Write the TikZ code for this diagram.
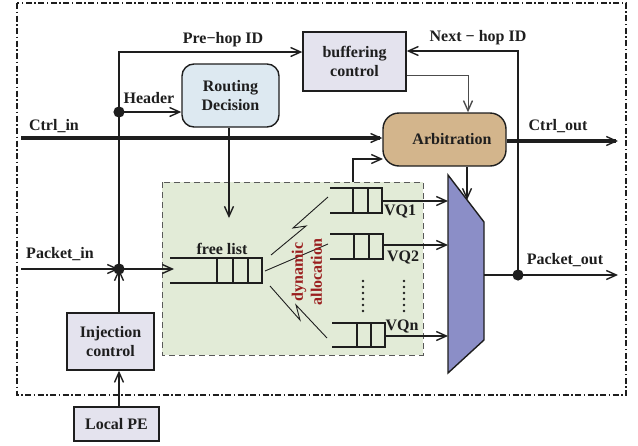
\documentclass[tikz,border=0pt]{standalone}
\usepackage{fontspec}
\setmainfont{Liberation Serif}
\usetikzlibrary{arrows.meta}
\definecolor{txt}{HTML}{1E1E1E}
\definecolor{bufc}{HTML}{E4E3EE}
\definecolor{routc}{HTML}{DDE9F1}
\definecolor{arbc}{HTML}{D3B58C}
\definecolor{muxc}{HTML}{8B8EC7}
\definecolor{greenc}{HTML}{E2EBD7}
\definecolor{redt}{HTML}{9A1E1E}
\tikzset{
  lbl/.style={font=\fontsize{16}{17}\selectfont\bfseries, text=txt, inner sep=0pt},
  boxstyle/.style={draw=txt, line width=1.4pt, inner sep=0pt, align=center, font=\fontsize{16}{19}\selectfont\bfseries, text=txt},
  arr/.style={-{Straight Barb[length=10pt,width=9pt,line width=1.4pt]}},
  wire/.style={line width=1.5pt, draw=txt},
  thickwire/.style={line width=3.4pt, draw=txt},
  qline/.style={line width=1.6pt, draw=txt},
}
\begin{document}
\begin{tikzpicture}[x=1pt,y=-1pt]
\useasboundingbox (0,0) rectangle (638,445);
% outer border
\draw[line width=1.5pt, txt, dash pattern=on 6pt off 2.5pt on 1.5pt off 2.5pt] (17,3) rectangle (626,395);
% green region
\draw[fill=greenc, draw=black!65, line width=1pt, dash pattern=on 6pt off 4pt] (162,182) rectangle (423,355);
\coordinate (gtop) at (353,182);

% boxes
\node[boxstyle, fill=bufc, minimum width=103pt, minimum height=59pt] (buf) at (354.5,61.5) {buffering\\control};
\node[boxstyle, fill=routc, rounded corners=12pt, minimum width=97pt, minimum height=63pt] (rout) at (230.5,95.5) {Routing\\Decision};
\node[boxstyle, fill=arbc, rounded corners=16pt, minimum width=123pt, minimum height=53pt] (arb) at (444.5,139.5) {\hspace*{15pt}Arbitration};
\node[boxstyle, fill=bufc, minimum width=87pt, minimum height=57pt] (inj) at (110.5,341.5) {Injection\\control};
\node[boxstyle, fill=bufc, minimum width=85pt, minimum height=34pt] (pe) at (116.5,424) {Local PE};

% mux
\coordinate (m1) at (448,175);
\coordinate (m2) at (484,222);
\coordinate (m3) at (484,340);
\coordinate (m4) at (448,373);
\draw[fill=muxc, draw=txt, line width=1.4pt] (m1) -- (m2) -- (m3) -- (m4) -- cycle;

% junction dots
\coordinate (hdot) at (119,112);
\coordinate (pdot) at (119,269);
\coordinate (odot) at (518,275);
\coordinate (ptop) at (119,52);
\coordinate (ntop) at (518,51);

% Pre-hop ID
\draw[wire, arr] (pdot) -- (ptop) -- (ptop -| buf.west);
\node[lbl] (prehop) at (223,40) {Pre−hop ID};
% Header
\draw[wire, arr] (hdot) -- (hdot -| rout.west);
\node[lbl] (header) at (149,98) {Header};
% Ctrl in / out
\coordinate (cin) at (21,138);
\coordinate (cout) at (618,141);
\draw[thickwire, arr] (cin) -- (cin -| arb.west);
\node[lbl] (ctrlin) at (54,126) {Ctrl\_in};
\draw[thickwire, arr] (arb.east |- cout) -- (cout);
\node[lbl] (ctrlout) at (558,126) {Ctrl\_out};
% Next-hop ID
\draw[wire, arr] (odot) -- (ntop) -- (ntop -| buf.east);
\node[lbl] (nexthop) at (478,38) {Next − hop ID};
% buffering -> arbitration
\coordinate (bc) at (468,75);
\draw[line width=1pt, draw=black!70, arr] (bc -| buf.east) -- (bc) -- (bc |- arb.north);
% arbitration -> mux
\coordinate (am) at (467,200);
\draw[wire, arr] (am |- arb.south) -- (am);
% green -> arbitration
\coordinate (ga) at (353,159);
\draw[wire, arr] (gtop) -- (ga) -- (383,159);
% routing -> free list
\coordinate (rl) at (229,218);
\draw[wire, arr] (rl |- rout.south) -- (rl);

% Packet in
\coordinate (pin) at (21,269);
\node[lbl] (packetin) at (60,254) {Packet\_in};
\draw[wire, arr] (pin) -- (pdot);
\coordinate (flin) at (174,269);
\draw[wire, arr] (pdot) -- (flin);
% injection
\draw[wire, arr] (pdot |- inj.north) -- (pdot);
\draw[wire, arr] (pdot |- pe.north) -- (pdot |- inj.south);

% Packet out
\coordinate (mout) at (484,275);
\coordinate (pout) at (618,275);
\draw[wire] (mout) -- (odot);
\draw[wire, arr] (odot) -- (pout);
\node[lbl] (packetout) at (565,260) {Packet\_out};

% dots
\fill[txt] (hdot) circle (5.6);
\fill[txt] (pdot) circle (5.6);
\fill[txt] (odot) circle (5.6);

% free list queue
\draw[qline] (170,258) -- (262,258) -- (262,283) -- (170,283);
\draw[qline] (217,258) -- (217,283) (233,258) -- (233,283) (248,258) -- (248,283);
\node[lbl] (freelist) at (222,249) {free list};

% VQ queues
\draw[qline] (330,188) -- (382,188) -- (382,213) -- (330,213);
\draw[qline] (353,188) -- (353,213) (368,188) -- (368,213);
\coordinate (vq1) at (382,201);
\draw[wire, arr] (vq1) -- (vq1 -| m1);
\node[lbl] (vq1l) at (400,211) {VQ1};

\draw[qline] (330,234) -- (383,234) -- (383,259) -- (330,259);
\draw[qline] (354,234) -- (354,259) (369,234) -- (369,259);
\coordinate (vq2) at (383,245);
\draw[wire, arr] (vq2) -- (vq2 -| m1);
\node[lbl] (vq2l) at (403,257) {VQ2};

\draw[qline] (332,323) -- (385,323) -- (385,347) -- (332,347);
\draw[qline] (357,323) -- (357,347) (371,323) -- (371,347);
\coordinate (vqn) at (385,336);
\draw[wire, arr] (vqn) -- (vqn -| m1);
\node[lbl] (vqnl) at (402,326) {VQn};

% vertical dots
\foreach \yy in {281,287,293,299,305,311} {
  \fill[txt] (363,\yy) circle (1.3);
  \fill[txt] (404,\yy) circle (1.3);
}

% lightning lines
\draw[line width=0.9pt, txt] (271,255) -- (306,226) -- (293,228) -- (328,197);
\draw[line width=0.9pt, txt] (265,271) -- (328,244);
\draw[line width=0.9pt, txt] (270,286) -- (300,320) -- (296,305) -- (327,338);

% dynamic allocation
\node[font=\fontsize{16}{19}\selectfont\bfseries, text=redt, rotate=90, align=center, inner sep=0pt] (dyn) at (307,272) {dynamic\\allocation};
\end{tikzpicture}
\end{document}
